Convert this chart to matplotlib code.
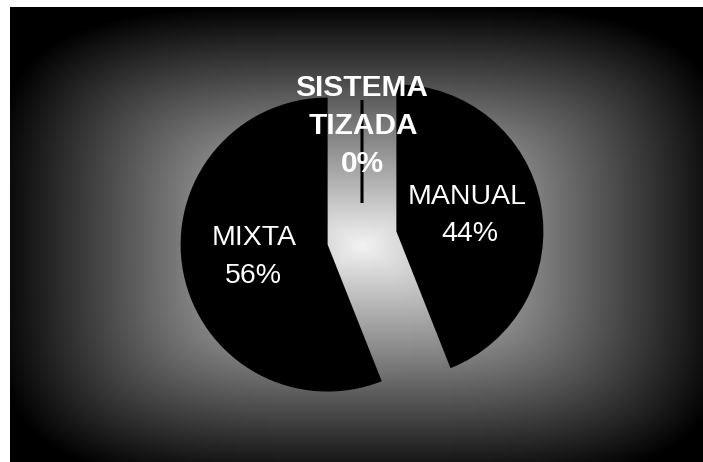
import numpy as np
import matplotlib
matplotlib.use("Agg")
import matplotlib.pyplot as plt

# Survey results: marking method
labels = ["MANUAL", "MIXTA", "SISTEMA\nTIZADA"]
values = [44, 56, 0]
pct_labels = ["44%", "56%", "0%"]

W, H = 703, 462
fig = plt.figure(figsize=(W / 100, H / 100), dpi=100, facecolor="black")
ax = fig.add_axes([0, 0, 1, 1])

# background: white margin, black panel with a light "from center" gradient
yy, xx = np.mgrid[0:H, 0:W]
dx = np.abs(xx - 362) / 370.0
dy = np.abs(yy - 245) / 240.0
r = (dx ** 4 + dy ** 4) ** 0.25
bright = 0.95 * np.clip(1 - r, 0, 1)
bg = np.dstack([bright] * 3)
bg[:7, :, :] = 1.0
bg[:, :10, :] = 1.0
ax.imshow(bg, extent=(0, W, 0, H), origin="upper", aspect="auto",
          interpolation="nearest", zorder=0)

# pie in pixel units (y measured upward)
cx, cy = 362, H - 238
wedges, _ = ax.pie(values, startangle=90, counterclock=False, radius=147,
                   center=(cx, cy), explode=[35, 35, 35],
                   colors=["black", "black", "black"],
                   wedgeprops=dict(linewidth=0))
for w in wedges:
    w.set_zorder(2)
# the empty slice shows up only as its edge line
wedges[2].set_radius(103)
wedges[2].set_edgecolor("black")
wedges[2].set_linewidth(2.2)

ax.set_aspect("auto")
ax.set_xlim(0, W)
ax.set_ylim(0, H)
ax.axis("off")

font = "Liberation Sans"
reg = dict(color="white", fontsize=20.5, family=font, ha="center", va="center", zorder=5)
bold = dict(reg, fontsize=21.5, fontweight="bold")
ax.text(362, H - 88, "SISTEMA", **bold)
ax.text(363, H - 126, "TIZADA", **bold)
ax.text(362, H - 164, pct_labels[2], **bold)
ax.text(467, H - 197, labels[0], **reg)
ax.text(470, H - 234, pct_labels[0], **reg)
ax.text(254, H - 238, labels[1], **reg)
ax.text(253, H - 276, pct_labels[1], **reg)

fig.savefig("out.png", dpi=100, facecolor="black")
